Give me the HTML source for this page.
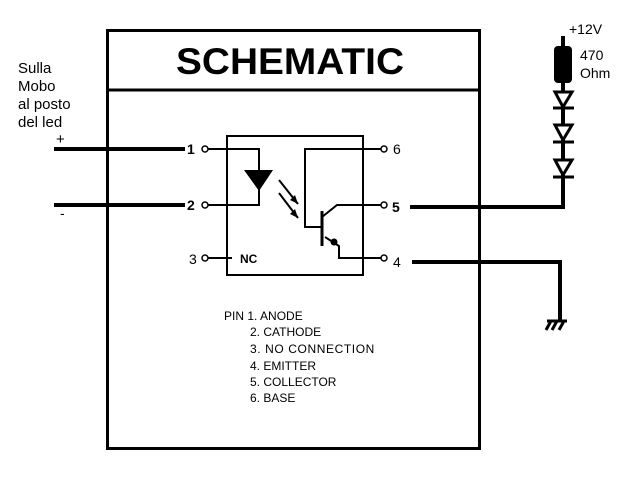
<!DOCTYPE html>
<html><head><meta charset="utf-8"><style>
html,body{margin:0;padding:0;background:#fff;width:640px;height:480px;overflow:hidden}
svg{display:block}
text{font-family:"Liberation Sans",sans-serif;fill:#000}
</style></head><body>
<svg width="640" height="480" viewBox="0 0 640 480">
<rect x="107.5" y="30.5" width="372" height="418" fill="none" stroke="#000" stroke-width="3"/>
<line x1="106" y1="90" x2="481" y2="90" stroke="#000" stroke-width="3"/>
<text x="290" y="74" font-size="37" font-weight="bold" text-anchor="middle" textLength="228" lengthAdjust="spacingAndGlyphs">SCHEMATIC</text>
<rect x="227" y="136" width="136" height="139" fill="none" stroke="#000" stroke-width="2"/>
<text x="18" y="73" font-size="15">Sulla</text>
<text x="18" y="91" font-size="15">Mobo</text>
<text x="18" y="109" font-size="15">al posto</text>
<text x="18" y="127" font-size="15">del led</text>
<text x="56" y="144" font-size="15">+</text>
<text x="60" y="218" font-size="14">-</text>
<line x1="54" y1="149" x2="185" y2="149" stroke="#000" stroke-width="4"/>
<line x1="54" y1="205" x2="185" y2="205" stroke="#000" stroke-width="4"/>
<g font-size="14" font-family="Liberation Serif">
<text x="187" y="154" font-weight="bold">1</text>
<text x="187" y="210" font-weight="bold">2</text>
<text x="189" y="264">3</text>
<text x="393" y="154">6</text>
<text x="392" y="212" font-weight="bold">5</text>
<text x="393" y="267">4</text>
</g>
<g fill="#fff" stroke="#000" stroke-width="1.5">
<circle cx="205" cy="149" r="3"/><circle cx="205" cy="205" r="3"/><circle cx="205" cy="258" r="3"/>
<circle cx="384" cy="149" r="3"/><circle cx="384" cy="205" r="3"/><circle cx="384" cy="258" r="3"/>
</g>
<g stroke="#000" stroke-width="2" fill="none">
<polyline points="208,149 259,149 259,172"/>
<polyline points="208,205 259,205 259,188"/>
<line x1="208" y1="258" x2="232" y2="258"/>
<polyline points="381,149 305,149 305,227 322,227"/>
<polyline points="322,217 337,205 381,205"/>
<polyline points="325,237 339,246 339,258 381,258"/>
<line x1="279" y1="180" x2="298" y2="204"/>
<line x1="279" y1="193" x2="298" y2="218"/>
</g>
<line x1="322" y1="211" x2="322" y2="246" stroke="#000" stroke-width="3"/>
<circle cx="334" cy="242" r="3.5" fill="#000"/>
<polygon points="244,170 273,170 259,191" fill="#000"/>
<polygon points="298,204 290,200 295,195" fill="#000"/>
<polygon points="298,218 290,214 295,209" fill="#000"/>
<text x="240" y="263" font-size="12" font-weight="bold">NC</text>
<g font-size="12">
<text x="224" y="320">PIN 1. ANODE</text>
<text x="250" y="336">2. CATHODE</text>
<text x="250" y="353" letter-spacing="0.6">3. NO CONNECTION</text>
<text x="250" y="370">4. EMITTER</text>
<text x="250" y="386">5. COLLECTOR</text>
<text x="250" y="402">6. BASE</text>
</g>
<g stroke="#000" stroke-width="4" fill="none">
<polyline points="410,207 563,207 563,36"/>
<polyline points="412,262 560,262 560,322"/>
</g>
<rect x="554" y="46" width="18" height="37" rx="4" fill="#000"/>
<g fill="#fff" stroke="#000" stroke-width="3">
<polygon points="555,92 572,92 563,107"/>
<polygon points="555,125 572,125 563,140"/>
<polygon points="555,160 572,160 563,175"/>
</g>
<g stroke="#000" stroke-width="3">
<line x1="553" y1="108" x2="574" y2="108"/>
<line x1="553" y1="142" x2="574" y2="142"/>
<line x1="553" y1="177" x2="574" y2="177"/>
</g>
<g stroke="#000" stroke-width="3">
<line x1="547" y1="321" x2="567" y2="321"/>
<line x1="551" y1="321" x2="546" y2="330"/>
<line x1="557" y1="321" x2="552" y2="330"/>
<line x1="564" y1="321" x2="559" y2="330"/>
</g>
<text x="569" y="34" font-size="14" font-family="DejaVu Sans">+12V</text>
<text x="580" y="60" font-size="14" font-family="DejaVu Sans">470</text>
<text x="580" y="78" font-size="14" font-family="DejaVu Sans">Ohm</text>
</svg>
</body></html>
